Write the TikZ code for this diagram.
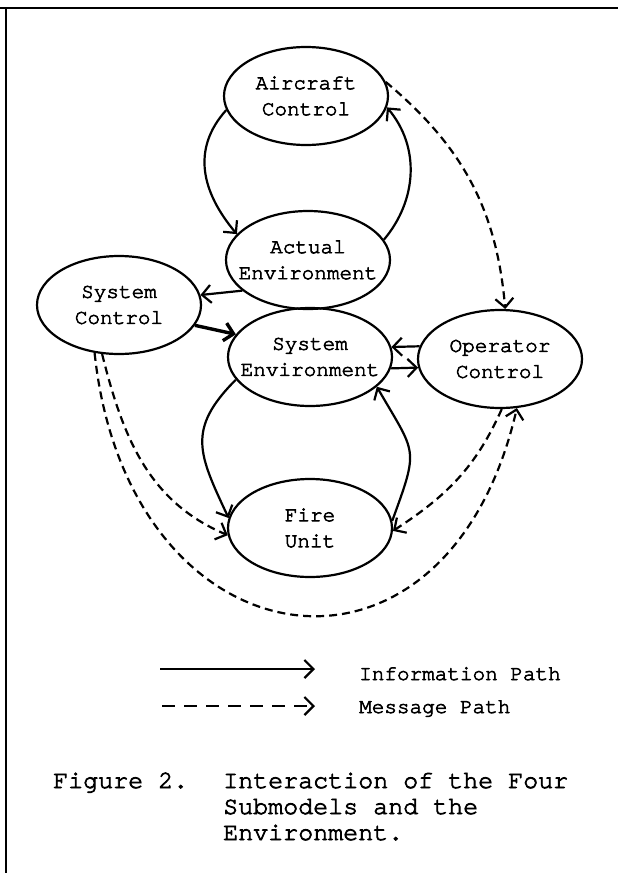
\documentclass[tikz,border=0pt]{standalone}
\usepackage{fontspec}
\setmainfont{TeX Gyre Cursor}[FakeBold=3]
\usetikzlibrary{shapes,arrows}
\usetikzlibrary{arrows.meta}
\tikzstyle{model} = [ellipse, draw, line width=2.2pt, minimum width=164pt,
    minimum height=98pt, inner xsep=-15pt, inner ysep=0pt, align=center,
    font=\fontsize{21}{26}\selectfont]
\tikzstyle{line} = [draw, line width=2.2pt, -{Straight Barb[length=9pt,width=18pt]}]
\tikzstyle{msg} = [line, dash pattern=on 8pt off 5pt]
\tikzstyle{key} = [inner sep=0pt, anchor=base west, font=\fontsize{21}{26}\selectfont]
\tikzstyle{caption} = [inner sep=0pt, anchor=base west, align=left,
    font=\fontsize{25}{26}\selectfont]

\begin{document}
\begin{tikzpicture}[x=1pt, y=1pt]
      \useasboundingbox (0,0) rectangle (618,-873);
      \draw [line width=2pt] (0,-8) -- (618,-8);
      \draw [line width=2.4pt] (6,-8) -- (6,-873);
      \node [model] (ac) at (306,-96) {Aircraft\\Control};
      \node [model] (ae) at (308,-260) {Actual\\Environment};
      \node [model] (sc) at (119,-305) {System\\Control};
      \node [model] (se) at (310,-357) {System\\Environment};
      \node [model] (oc) at (500,-359) {Operator\\Control};
      \node [model] (fu) at (310,-528) {Fire\\Unit};
      \path [line] (ac.190) to [out=228, in=130, looseness=1.1] (ae.160);
      \path [line] (ae.15) to [out=50, in=-50] (ac.-8);
      \path [line] (ae.205) -- (sc.7);
      \path [line, line width=3.4pt] (sc.-15) -- (se.163);
      \path [line] (oc.171) -- (se.7);
      \path [line] (se.-8) -- (oc.186);
      \path [line] (se.197) to [out=225, in=115, looseness=1.3] (fu.173);
      \path [line] (fu.5) to [out=70, in=-60, looseness=1.5] (se.-24);
      \path [msg] (ac.10) to [out=-40, in=95] (oc.84);
      \path [msg] (oc.-88) to [out=246, in=33] (fu.-2);
      \path [msg] (sc.-109) to [out=284, in=157] (fu.185);
      \path [msg] (sc.-117) to [out=276, in=257, looseness=1.9] (oc.-71);
      % legend
      \coordinate (i1) at (160,-669);
      \coordinate (i2) at (315,-669);
      \coordinate (m1) at (162,-706);
      \coordinate (m2) at (315,-706);
      \path [line] (i1) -- (i2);
      \path [line, dash pattern=on 13pt off 9pt] (m1) -- (m2);
      \node [key] (info) at (359,-680) {Information Path};
      \node [key] (mess) at (359,-713) {Message Path};
      \node [caption] (fig) at (53,-788) {Figure 2.};
      \node [caption] (cap) at (223,-840) {Interaction of the Four\\Submodels and the\\Environment.};
  \end{tikzpicture}
\end{document}
